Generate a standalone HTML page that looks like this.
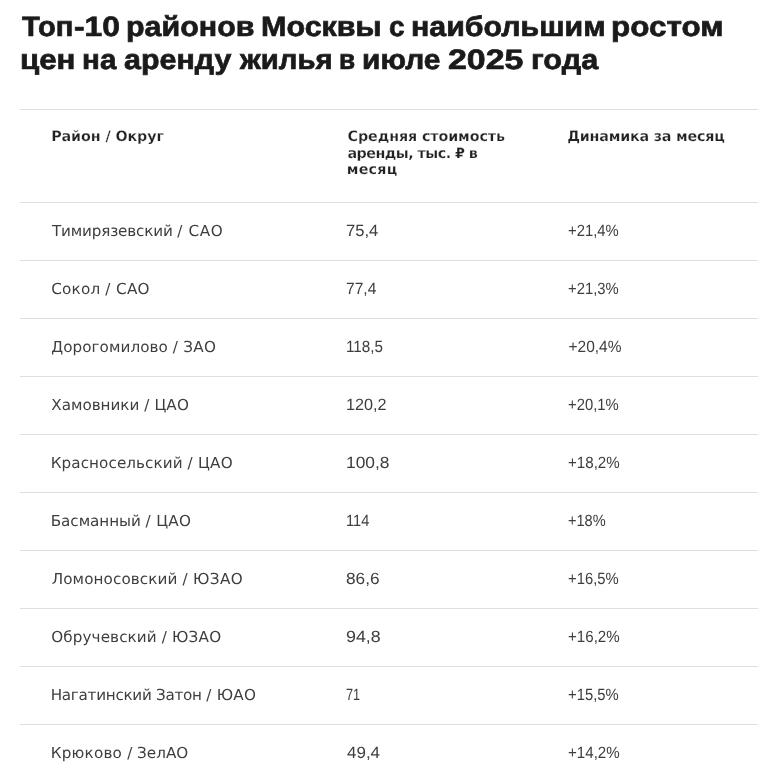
<!DOCTYPE html>
<html lang="ru">
<head>
<meta charset="utf-8">
<title>Топ-10 районов Москвы с наибольшим ростом цен на аренду</title>
<style>
html,body{margin:0;padding:0;background:#fff;}
body{width:776px;height:781px;overflow:hidden;position:relative;text-rendering:geometricPrecision;font-family:"Liberation Sans",sans-serif;color:#1c1c1c;}
.x{position:absolute;white-space:nowrap;margin:0;line-height:20px;transform-origin:0 0;}
.t{font-family:"Liberation Sans",sans-serif;font-size:28px;font-weight:700;color:#1a1a1a;line-height:34px;-webkit-text-stroke:0.7px #1a1a1a;}
.h{font-family:"DejaVu Sans",sans-serif;font-size:14.3px;font-weight:700;color:#222;-webkit-text-stroke:0.25px #fff;}
.c1{font-family:"DejaVu Sans",sans-serif;font-size:15.2px;color:#3e3e3e;}
.n{font-family:"Liberation Sans",sans-serif;font-size:15.5px;color:#3e3e3e;transform-origin:0 15px;}
.ln{position:absolute;left:20px;width:738px;height:1px;background:#dfdfdf;}

</style>
</head>
<body>
<h1 style="margin:0;font-size:inherit;font-weight:inherit">
<span id="ta0" class="x t" style="left:21.96px;top:10.16px;transform:scaleX(1.0401);">Топ</span><span id="ta1" class="x t" style="left:74.46px;top:10.16px;transform:scaleX(1.1355);">-10</span> <span id="ta2" class="x t" style="left:126.42px;top:10.16px;transform:scaleX(1.0869);">районов</span> <span id="ta3" class="x t" style="left:261.36px;top:10.16px;transform:scaleX(1.0893);">Москвы</span> <span id="ta4" class="x t" style="left:388.76px;top:10.16px;transform:scaleX(1.0012);">с</span> <span id="ta5" class="x t" style="left:411.36px;top:10.16px;transform:scaleX(1.0832);">наибольшим</span> <span id="ta6" class="x t" style="left:611.42px;top:10.16px;transform:scaleX(1.1231);">ростом</span> <span id="tb0" class="x t" style="left:20.14px;top:43.41px;transform:scaleX(1.1161);">цен</span> <span id="tb1" class="x t" style="left:81.70px;top:43.41px;transform:scaleX(1.0570);">на</span> <span id="tb2" class="x t" style="left:124.40px;top:43.41px;transform:scaleX(1.0862);">аренду</span> <span id="tb3" class="x t" style="left:239.50px;top:43.41px;transform:scaleX(1.0469);">жилья</span> <span id="tb4" class="x t" style="left:338.80px;top:43.41px;transform:scaleX(0.9372);">в</span> <span id="tb5" class="x t" style="left:362.20px;top:43.41px;transform:scaleX(1.0676);">июле</span> <span id="tb6" class="x t" style="left:448.08px;top:43.41px;transform:scaleX(1.2117);">2025</span> <span id="tb7" class="x t" style="left:530.92px;top:43.41px;transform:scaleX(1.0952);">года</span>
</h1>
<div class="ln" style="top:109px"></div>
<div id="h1" class="x h" style="left:51.14px;top:127.00px;letter-spacing:-0.090px;">Район / Округ</div>
<div id="h2a" class="x h" style="left:347.60px;top:127.00px;letter-spacing:-0.105px;">Средняя стоимость</div>
<div id="h2b" class="x h" style="left:347.50px;top:143.50px;letter-spacing:-0.536px;">аренды, тыс. ₽ в</div>
<div id="h2c" class="x h" style="left:346.76px;top:160.00px;letter-spacing:0.210px;">месяц</div>
<div id="h3" class="x h" style="left:567.24px;top:127.00px;letter-spacing:-0.199px;">Динамика за месяц</div>
<div class="ln" style="top:202px"></div>
<div id="r0m" class="x c1" style="left:51.96px;top:221.00px;letter-spacing:-0.171px;">Тимирязевский <span id="r0ma" style="letter-spacing:0.658px">/ САО</span></div>
<div id="r0v" class="x n" style="left:346.24px;top:222.06px;transform:scale(1.0716,1.05);">75,4</div>
<div id="r0d" class="x n" style="left:567.60px;top:222.06px;transform:scale(0.9562,1.05);">+21,4%</div>
<div class="ln" style="top:260px"></div>
<div id="r1m" class="x c1" style="left:51.32px;top:279.00px;letter-spacing:0.180px;">Сокол <span id="r1ma" style="letter-spacing:0.345px">/ САО</span></div>
<div id="r1v" class="x n" style="left:346.24px;top:280.06px;transform:scale(1.0045,1.05);">77,4</div>
<div id="r1d" class="x n" style="left:567.60px;top:280.06px;transform:scale(0.9562,1.05);">+21,3%</div>
<div class="ln" style="top:318px"></div>
<div id="r2m" class="x c1" style="left:51.32px;top:337.00px;letter-spacing:0.048px;">Дорогомилово <span id="r2ma" style="letter-spacing:0.278px">/ ЗАО</span></div>
<div id="r2v" class="x n" style="left:346.24px;top:338.06px;transform:scale(0.9833,1.05);">118,5</div>
<div id="r2d" class="x n" style="left:568.50px;top:338.06px;transform:scale(1.0000,1.05);">+20,4%</div>
<div class="ln" style="top:376px"></div>
<div id="r3m" class="x c1" style="left:51.32px;top:395.00px;letter-spacing:-0.025px;">Хамовники <span id="r3ma" style="letter-spacing:0.152px">/ ЦАО</span></div>
<div id="r3v" class="x n" style="left:346.24px;top:396.06px;transform:scale(1.0454,1.05);">120,2</div>
<div id="r3d" class="x n" style="left:567.60px;top:396.06px;transform:scale(0.9562,1.05);">+20,1%</div>
<div class="ln" style="top:434px"></div>
<div id="r4m" class="x c1" style="left:50.72px;top:453.00px;letter-spacing:0.074px;">Красносельский <span id="r4ma" style="letter-spacing:0.261px">/ ЦАО</span></div>
<div id="r4v" class="x n" style="left:346.24px;top:454.06px;transform:scale(1.1197,1.05);">100,8</div>
<div id="r4d" class="x n" style="left:567.60px;top:454.06px;transform:scale(0.9758,1.05);">+18,2%</div>
<div class="ln" style="top:492px"></div>
<div id="r5m" class="x c1" style="left:50.72px;top:511.00px;letter-spacing:-0.050px;">Басманный <span id="r5ma" style="letter-spacing:0.335px">/ ЦАО</span></div>
<div id="r5v" class="x n" style="left:346.24px;top:512.06px;transform:scale(0.9426,1.05);">114</div>
<div id="r5d" class="x n" style="left:567.60px;top:512.06px;transform:scale(0.9400,1.05);">+18%</div>
<div class="ln" style="top:550px"></div>
<div id="r6m" class="x c1" style="left:51.68px;top:569.00px;letter-spacing:0.100px;">Ломоносовский <span id="r6ma" style="letter-spacing:0.356px">/ ЮЗАО</span></div>
<div id="r6v" class="x n" style="left:346.24px;top:570.06px;transform:scale(1.1131,1.05);">86,6</div>
<div id="r6d" class="x n" style="left:567.60px;top:570.06px;transform:scale(0.9562,1.05);">+16,5%</div>
<div class="ln" style="top:608px"></div>
<div id="r7m" class="x c1" style="left:51.32px;top:627.00px;letter-spacing:0.090px;">Обручевский <span id="r7ma" style="letter-spacing:0.192px">/ ЮЗАО</span></div>
<div id="r7v" class="x n" style="left:346.24px;top:628.06px;transform:scale(1.1500,1.05);">94,8</div>
<div id="r7d" class="x n" style="left:567.60px;top:628.06px;transform:scale(0.9758,1.05);">+16,2%</div>
<div class="ln" style="top:666px"></div>
<div id="r8m" class="x c1" style="left:50.72px;top:685.00px;letter-spacing:-0.286px;">Нагатинский Затон <span id="r8ma" style="letter-spacing:0.222px">/ ЮАО</span></div>
<div id="r8v" class="x n" style="left:346.24px;top:686.06px;transform:scale(0.8183,1.05);">71</div>
<div id="r8d" class="x n" style="left:567.60px;top:686.06px;transform:scale(0.9562,1.05);">+15,5%</div>
<div class="ln" style="top:724px"></div>
<div id="r9m" class="x c1" style="left:50.72px;top:743.00px;letter-spacing:0.210px;">Крюково <span id="r9ma" style="letter-spacing:0.000px">/ ЗелАО</span></div>
<div id="r9v" class="x n" style="left:346.72px;top:744.06px;transform:scale(1.0951,1.05);">49,4</div>
<div id="r9d" class="x n" style="left:567.60px;top:744.06px;transform:scale(0.9758,1.05);">+14,2%</div>
</body>
</html>
